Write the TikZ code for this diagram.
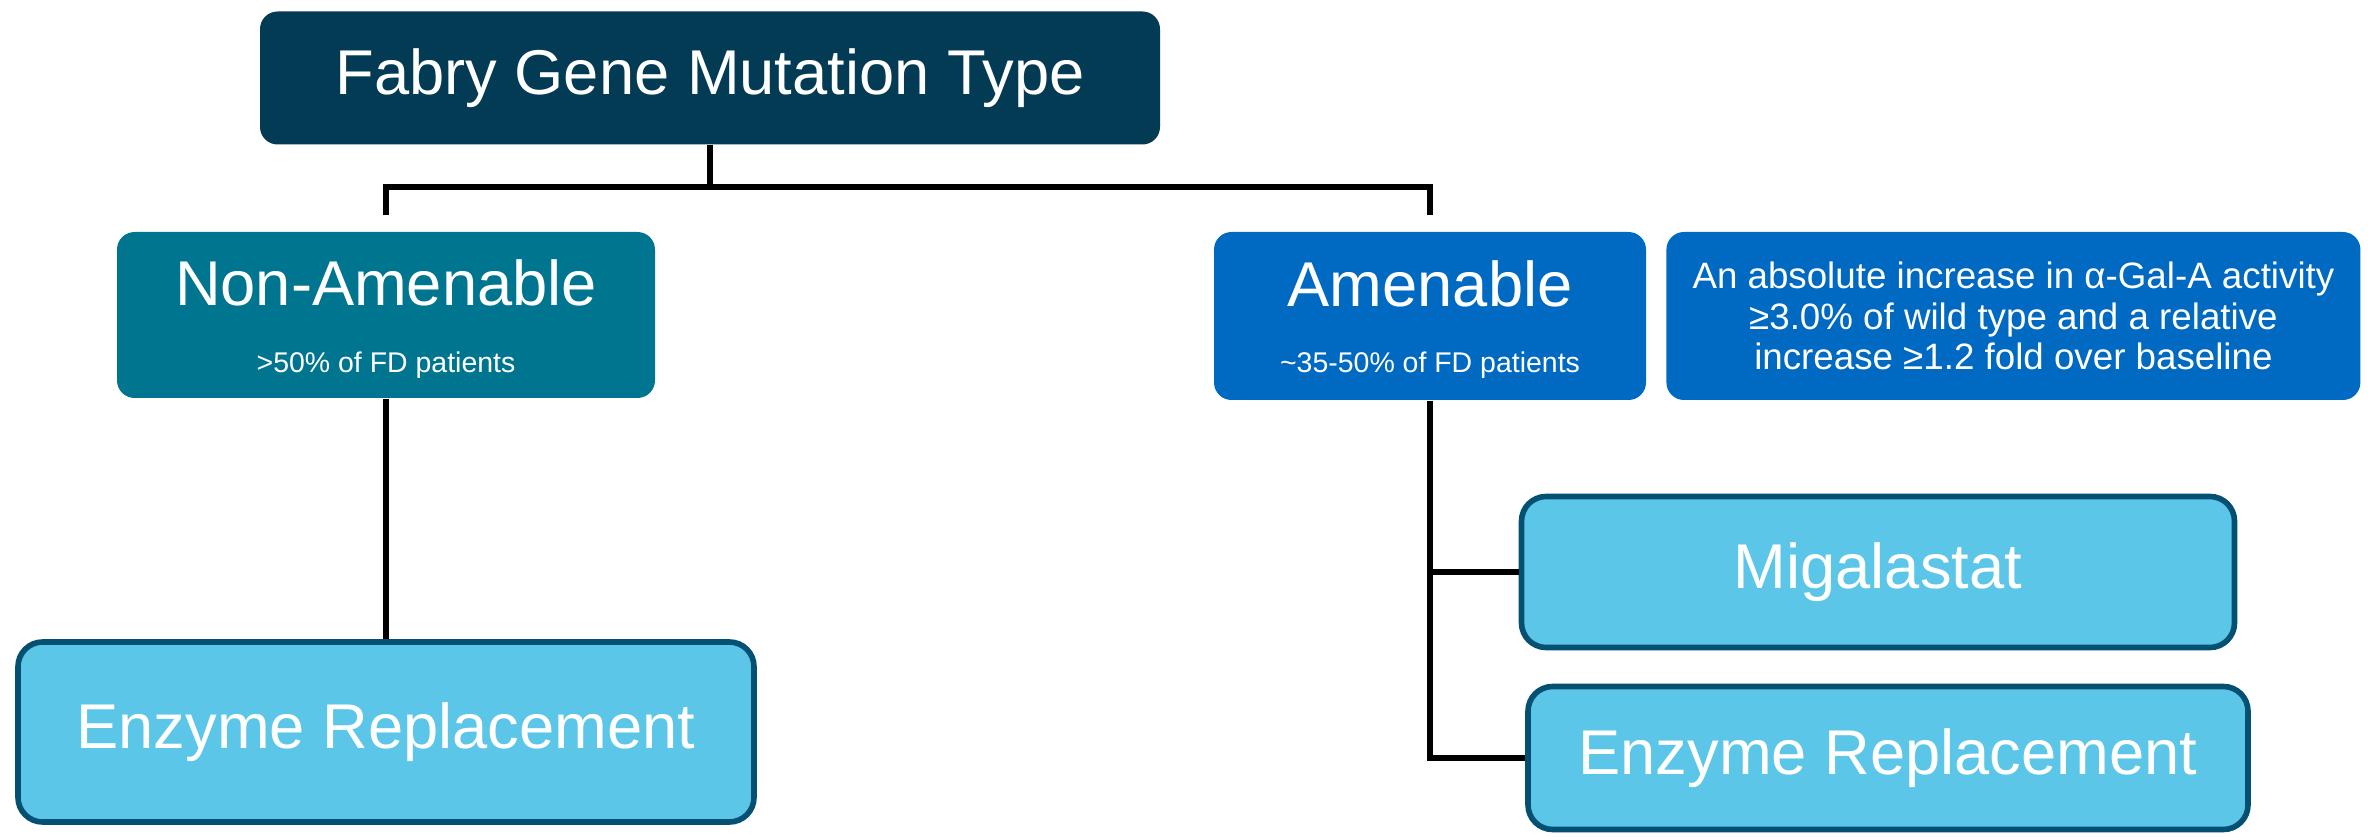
\documentclass[tikz,border=0pt]{standalone}
\usepackage{fontspec}
\setmainfont{Liberation Sans}
\usetikzlibrary{positioning, calc}

\definecolor{navybox}{HTML}{033A54}
\definecolor{tealbox}{HTML}{00758F}
\definecolor{amenbox}{HTML}{0069C2}
\definecolor{cyanbox}{HTML}{5BC6E7}
\definecolor{edgeblue}{HTML}{045073}

\begin{document}
\begin{tikzpicture}[x=0.1mm, y=-0.1mm, text=white]
    % Define block styles
    \tikzstyle{block} = [rectangle, fill=navybox, rounded corners=5pt, inner sep=0pt, font=\fontsize{18}{21}\selectfont]
    \tikzstyle{drug} = [block, fill=cyanbox, draw=edgeblue, line width=1.6pt, rounded corners=7pt]
    \tikzstyle{bigtext} = [anchor=base, inner sep=0pt, font=\fontsize{18}{21}\selectfont]
    \tikzstyle{smalltext} = [anchor=base, inner sep=0pt, font=\fontsize{8.1}{9}\selectfont]
    \tikzstyle{line} = [draw=black, line width=1.6pt]

    \useasboundingbox (0,0) rectangle (2374,837);

    % Place main nodes
    \node [block, minimum width=90mm, minimum height=13.3mm] (mutation) at (710,78) {Fabry Gene Mutation Type};
    \node [block, fill=tealbox, minimum width=53.8mm, minimum height=16.6mm] (nonamen) at (386,315) {};
    \node [block, fill=amenbox, minimum width=43.2mm, minimum height=16.8mm] (amen) at (1430,316) {};
    \node [block, fill=amenbox, right=1.9mm of amen, minimum width=69.4mm, minimum height=16.8mm, align=center, font=\fontsize{10.45}{11.6}\selectfont] (criteria) {An absolute increase in α-Gal-A activity\\≥3.0\% of wild type and a relative\\increase ≥1.2 fold over baseline};

    % Text inside the two groups
    \node [bigtext] (nonamenName) at ($(nonamen.north)+(0,74)$) {Non-Amenable};
    \node [smalltext] (nonamenShare) at ($(nonamen.north)+(0,141)$) {>50\% of FD patients};
    \node [bigtext] (amenName) at ($(amen.north)+(0,75)$) {Amenable};
    \node [smalltext] (amenShare) at ($(amen.north)+(0,141)$) {\textasciitilde35-50\% of FD patients};

    % Place treatment nodes
    \node [drug, minimum width=73.6mm, minimum height=18mm] (enzymeL) at (386,732) {Enzyme Replacement};
    \node [drug, minimum width=71.3mm, minimum height=15.1mm] (miga) at (1878,572) {Migalastat};
    \node [drug, minimum width=72mm, minimum height=14.3mm] (enzymeR) at (1888,758) {Enzyme Replacement};

    % Draw connections
    \coordinate (split) at ($(mutation.south)+(0,42)$);
    \coordinate (nonamenTop) at ($(nonamen.north)+(0,-16)$);
    \coordinate (amenTop) at ($(amen.north)+(0,-16)$);
    \draw [line] (mutation.south) -- (split);
    \draw [line] (nonamenTop) |- (split) -| (amenTop);
    \draw [line] (nonamen.south) -- (enzymeL.north);
    \draw [line] (amen.south) |- (enzymeR.west);
    \draw [line] (amen.south |- miga.west) -- (miga.west);

\end{tikzpicture}
\end{document}
